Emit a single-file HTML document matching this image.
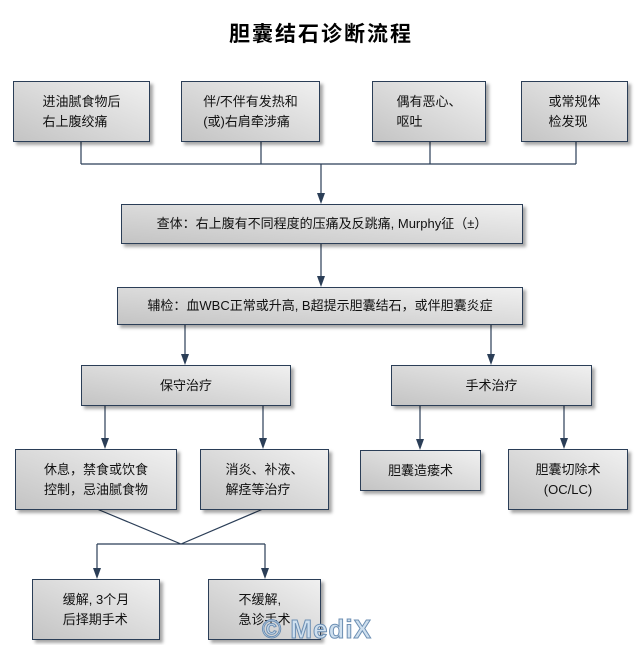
<!DOCTYPE html>
<html><head><meta charset="utf-8"><style>
body{margin:0;width:642px;height:645px;background:#fff;position:relative;overflow:hidden;font-family:"Liberation Sans","Noto Sans CJK SC",sans-serif;}
.b{position:absolute;box-sizing:border-box;border:1px solid #2b3e57;background:linear-gradient(to top right,#c4c4c4,#f0f0f0);box-shadow:3px 3px 3px rgba(0,0,0,0.35);font-size:13px;color:#111;display:flex;align-items:center;justify-content:center;text-align:left;line-height:20px;}
.t{position:absolute;left:0;width:642px;top:18px;text-align:center;font-size:21px;font-weight:bold;letter-spacing:2px;}
svg{position:absolute;left:0;top:0;}
.wm{position:absolute;left:262px;top:614px;font:bold 26px "Liberation Sans",sans-serif;color:#cfe0ef;-webkit-text-stroke:1px #6d8fb3;letter-spacing:1px;}
</style></head><body>
<div class="t">胆囊结石诊断流程</div>
<svg width="642" height="645">
<g stroke="#2b3e57" stroke-width="1.2" fill="none">
<path d="M81,141V164M261,141V164M430,141V164M576,141V164M81,164H576"/>
<path d="M321,164V200M321,243V283M185,324V361M491,324V361M105,405V445M263,405V445M420,405V446M564,405V445"/>
<path d="M97,509L181,544L263,509M97,544H265M97,544V575M265,544V575"/>
</g>
<g fill="#2b3e57">
<path d="M317,193h8l-4,11z"/>
<path d="M317,276h8l-4,11z"/>
<path d="M181,354h8l-4,11z"/>
<path d="M487,354h8l-4,11z"/>
<path d="M101,438h8l-4,11z"/>
<path d="M259,438h8l-4,11z"/>
<path d="M416,439h8l-4,11z"/>
<path d="M560,438h8l-4,11z"/>
<path d="M93,568h8l-4,11z"/>
<path d="M261,568h8l-4,11z"/>
</g></svg>
<div class="b" style="left:13px;top:81px;width:137px;height:61px">进油腻食物后<br>右上腹绞痛</div>
<div class="b" style="left:181px;top:81px;width:139px;height:61px">伴/不伴有发热和<br>(或)右肩牵涉痛</div>
<div class="b" style="left:372px;top:81px;width:114px;height:61px">偶有恶心、<br>呕吐</div>
<div class="b" style="left:521px;top:81px;width:107px;height:61px">或常规体<br>检发现</div>
<div class="b" style="left:121px;top:204px;width:402px;height:40px">查体：右上腹有不同程度的压痛及反跳痛, Murphy征（±）</div>
<div class="b" style="left:117px;top:287px;width:406px;height:38px">辅检：血WBC正常或升高, B超提示胆囊结石，或伴胆囊炎症</div>
<div class="b" style="left:81px;top:365px;width:210px;height:41px">保守治疗</div>
<div class="b" style="left:391px;top:365px;width:201px;height:41px">手术治疗</div>
<div class="b" style="left:15px;top:449px;width:162px;height:61px">休息，禁食或饮食<br>控制，忌油腻食物</div>
<div class="b" style="left:200px;top:449px;width:129px;height:61px">消炎、补液、<br>解痉等治疗</div>
<div class="b" style="left:360px;top:450px;width:121px;height:41px">胆囊造瘘术</div>
<div class="b" style="left:508px;top:449px;width:120px;height:61px;text-align:center">胆囊切除术<br>(OC/LC)</div>
<div class="b" style="left:32px;top:579px;width:128px;height:61px">缓解, 3个月<br>后择期手术</div>
<div class="b" style="left:208px;top:579px;width:113px;height:61px">不缓解,<br>急诊手术</div>
<div class="wm">© MediX</div>
</body></html>
